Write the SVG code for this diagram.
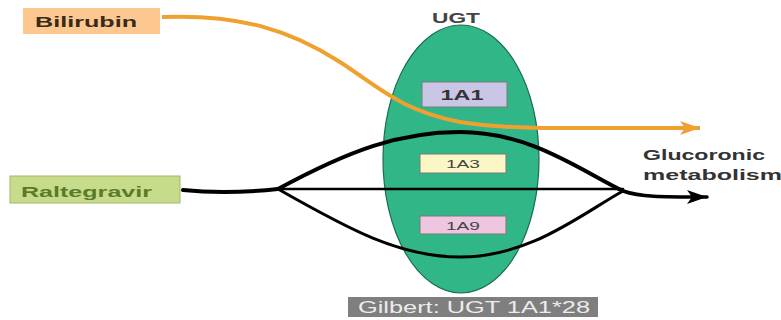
<svg xmlns="http://www.w3.org/2000/svg" width="781" height="320" viewBox="0 0 781 320">
<style>
text{font-family:"Liberation Sans",Arial,sans-serif}
.lbl{font-weight:bold;font-size:15px}
.iso{stroke:#7a7a7a;stroke-width:1}
.bk{fill:none;stroke:#000;stroke-linecap:round}
</style>
<defs>
<marker id="ao" markerUnits="userSpaceOnUse" markerWidth="24" markerHeight="16" refX="20" refY="8" orient="auto">
<path d="M0,1 L20,8 L0,15 L5,8 Z" fill="#f0a030"/>
</marker>
<marker id="ab" markerUnits="userSpaceOnUse" markerWidth="24" markerHeight="16" refX="20" refY="8" orient="auto">
<path d="M0,1 L20,8 L0,15 L5,8 Z" fill="#000"/>
</marker>
</defs>
<rect width="781" height="320" fill="#fff"/>
<g id="ugt">
<ellipse cx="461" cy="159" rx="78" ry="134" fill="#30b687" stroke="#1d6b4e" stroke-width="1.2"/>
<text class="lbl" x="456" y="23" text-anchor="middle" font-size="14" fill="#444" textLength="48" lengthAdjust="spacingAndGlyphs">UGT</text>
</g>
<g id="iso1a1">
<rect class="iso" x="422" y="82" width="85" height="25" fill="#c9c6e6"/>
<text x="462" y="100" text-anchor="middle" font-weight="bold" font-size="14" fill="#333" textLength="43" lengthAdjust="spacingAndGlyphs">1A1</text>
</g>
<g id="iso1a3">
<rect class="iso" x="420" y="154" width="86" height="19" fill="#fbf6c6"/>
<text x="463" y="168" text-anchor="middle" font-size="11" fill="#444" textLength="34" lengthAdjust="spacingAndGlyphs">1A3</text>
</g>
<g id="iso1a9">
<rect class="iso" x="420" y="216" width="86" height="18" fill="#eec6e0"/>
<text x="463" y="230" text-anchor="middle" font-size="11" fill="#444" textLength="34" lengthAdjust="spacingAndGlyphs">1A9</text>
</g>
<g id="connectors">
<path d="M162,17 C240,14 290,30 340,62 C380,88 400,110 460,122 C490,127 520,128 560,128 L700,128" fill="none" stroke="#f0a030" stroke-width="4" marker-end="url(#ao)"/>
<path class="bk" d="M183,190 C220,194 250,192 278,189" stroke-width="4"/>
<path class="bk" d="M278,189 C350,150 400,132 460,132 C530,132 580,170 623,191" stroke-width="4"/>
<path class="bk" d="M278,189 L623,189" stroke-width="2.5"/>
<path class="bk" d="M278,189 C350,230 400,257 460,257 C530,257 580,215 623,191" stroke-width="3"/>
<path class="bk" d="M623,191 C640,197 660,197 707,197" stroke-width="3.5" marker-end="url(#ab)"/>
</g>
<g id="bilirubin">
<rect x="23" y="8" width="137" height="26" fill="#fcc890"/>
<text class="lbl" x="35" y="27" fill="#3a2a1a" textLength="102" lengthAdjust="spacingAndGlyphs">Bilirubin</text>
</g>
<g id="raltegravir">
<rect x="10" y="176" width="170" height="27" fill="#c6dc8a" stroke="#a0b868" stroke-width="1"/>
<text class="lbl" x="21" y="197" font-size="16" fill="#5c7a2c" textLength="131" lengthAdjust="spacingAndGlyphs">Raltegravir</text>
</g>
<g id="glucoronic">
<text class="lbl" x="643" y="160" font-size="17" fill="#333" textLength="122" lengthAdjust="spacingAndGlyphs">Glucoronic</text>
<text class="lbl" x="643" y="180" font-size="17" fill="#333" textLength="139" lengthAdjust="spacingAndGlyphs">metabolism</text>
</g>
<g id="gilbert">
<rect x="348" y="297" width="250" height="20" fill="#7f7f7f"/>
<text x="358" y="313" font-size="17" fill="#ececec" textLength="232" lengthAdjust="spacingAndGlyphs">Gilbert: UGT 1A1*28</text>
</g>
</svg>
